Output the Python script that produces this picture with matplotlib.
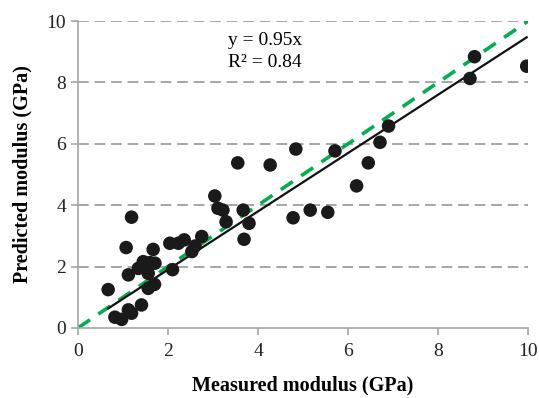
import matplotlib
matplotlib.use("Agg")
import matplotlib.pyplot as plt
import numpy as np

measured = [0.67, 0.82, 0.97, 1.07, 1.12, 1.12, 1.19, 1.19, 1.34, 1.41,
            1.45, 1.56, 1.56, 1.60, 1.67, 1.71, 1.70, 2.04, 2.23, 2.36,
            2.10, 2.53, 2.60, 2.75, 3.04, 3.11, 3.22, 3.29, 3.55, 3.67,
            3.69, 3.80, 4.27, 4.78, 4.84, 5.16, 5.55, 5.71, 6.19, 6.45,
            6.71, 6.90, 8.71, 8.81, 9.97]
predicted = [1.25, 0.35, 0.28, 2.62, 0.59, 1.73, 0.48, 3.61, 1.94, 0.75,
             2.16, 1.78, 1.29, 2.13, 2.56, 2.11, 1.42, 2.76, 2.76, 2.87,
             1.90, 2.49, 2.67, 2.98, 4.30, 3.90, 3.84, 3.46, 5.38, 3.84,
             2.89, 3.41, 5.31, 3.59, 5.83, 3.84, 3.77, 5.77, 4.63, 5.38,
             6.05, 6.58, 8.13, 8.84, 8.53]
slope = 0.95
eq_text = ["y = 0.95x", "R² = 0.84"]

plt.rcParams['font.family'] = ['Liberation Serif', 'DejaVu Serif']

fig = plt.figure(figsize=(5.39, 3.98), dpi=100)
ax = fig.add_axes([0.1447, 0.176, 0.835, 0.771])

ax.set_xlim(0, 10)
ax.set_ylim(0, 10)
ax.set_xticks([0, 2, 4, 6, 8, 10])
ax.set_yticks([0, 2, 4, 6, 8, 10])

for yv in [2, 4, 6, 8, 10]:
    ax.axhline(yv, color='#a6a6a6', lw=1.4, dashes=(5.5, 3), zorder=0)

ax.plot([0, 10], [0, 10], color='#00b050', lw=2.6, dashes=(4, 2.8), zorder=2)

xs = np.array([min(measured), max(measured)])
ax.plot(xs, slope * xs, color='#111111', lw=1.6, zorder=3)

ax.scatter(measured, predicted, s=95, color='#1a1a1a', edgecolors='none', zorder=4)

ax.text(3.33, 9.38, eq_text[0], fontsize=14, va='center', ha='left')
ax.text(3.33, 8.66, eq_text[1], fontsize=14, va='center', ha='left')

for s in ['top', 'right']:
    ax.spines[s].set_visible(False)
for s in ['left', 'bottom']:
    ax.spines[s].set_color('#a6a6a6')
    ax.spines[s].set_linewidth(1.2)
ax.tick_params(axis='both', colors='#a6a6a6', labelcolor='#222222',
               labelsize=14, length=5, width=1.2, direction='out')
ax.tick_params(axis='x', pad=6)

ax.set_xlabel('Measured modulus (GPa)', fontsize=14.5, fontweight='bold', labelpad=11)
ax.set_ylabel('Predicted modulus (GPa)', fontsize=14.5, fontweight='bold', labelpad=10)

fig.savefig('out.png', dpi=100)
